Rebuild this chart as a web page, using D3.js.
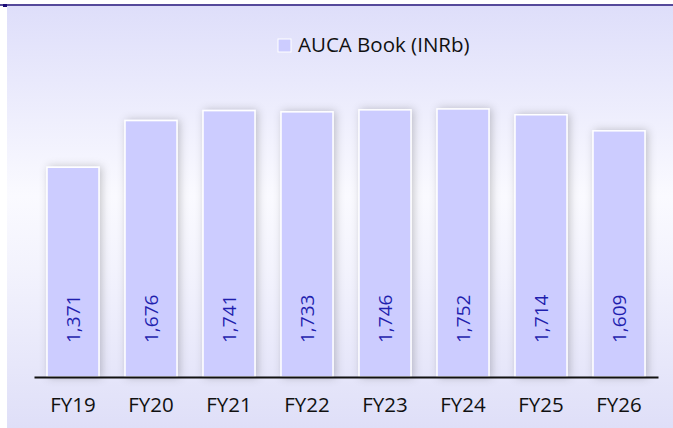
<!DOCTYPE html>
<html>
<head>
<meta charset="utf-8">
<script src="https://cdn.jsdelivr.net/npm/d3@7"></script>
<style>
  body { margin: 0; background: #fff; }
  svg { display: block; font-family: "Open Sans", sans-serif; }
</style>
</head>
<body>
<div id="chart"></div>
<script>
// chart data
var categories = ["FY19", "FY20", "FY21", "FY22", "FY23", "FY24", "FY25", "FY26"];
var values = [1371, 1676, 1741, 1733, 1746, 1752, 1714, 1609];
var seriesName = "AUCA Book (INRb)";

function init(){
    var w = 673, h = 428;
    var x0 = 34, x1 = 658, baseY = 377;

    var svg = d3.select("#chart").append("svg")
                .attr("width", w)
                .attr("height", h);

    var defs = svg.append("defs");

    // background gradient: lavender top, almost white middle, lavender bottom
    var grad = defs.append("linearGradient")
                   .attr("id", "bg")
                   .attr("x1", 0).attr("y1", 0).attr("x2", 0).attr("y2", 1);
    grad.append("stop").attr("offset", "0%").attr("stop-color", "#dedefa");
    grad.append("stop").attr("offset", "45%").attr("stop-color", "#fafaff");
    grad.append("stop").attr("offset", "62%").attr("stop-color", "#f3f3fd");
    grad.append("stop").attr("offset", "100%").attr("stop-color", "#dfdff8");

    var shadow = defs.append("filter")
                     .attr("id", "shadow")
                     .attr("x", "-30%").attr("y", "-10%")
                     .attr("width", "160%").attr("height", "120%");
    shadow.append("feDropShadow")
          .attr("dx", 2).attr("dy", 0)
          .attr("stdDeviation", 4)
          .attr("flood-color", "#000")
          .attr("flood-opacity", 0.22);

    svg.append("rect")
       .attr("x", 7).attr("y", 6)
       .attr("width", w - 7).attr("height", h - 6)
       .attr("fill", "url(#bg)");

    // top rule
    svg.append("line")
       .attr("x1", 0).attr("x2", w)
       .attr("y1", 5).attr("y2", 5)
       .attr("stroke", "#1c0c78")
       .attr("stroke-width", 1.5);
    svg.append("rect")
       .attr("x", 3).attr("y", 4)
       .attr("width", 4).attr("height", 3)
       .attr("fill", "#1c0c78");

    var xScale = d3.scaleBand()
                   .domain(categories)
                   .range([x0, x1])
                   .paddingInner(1/3)
                   .paddingOuter(1/6);

    var yScale = d3.scaleLinear()
                   .domain([0, 2000])
                   .range([baseY, 71]);

    // bars
    svg.append("g")
       .selectAll("rect")
       .data(values)
       .enter()
       .append("rect")
       .attr("x", function(d, i){ return xScale(categories[i]); })
       .attr("y", function(d){ return yScale(d); })
       .attr("width", xScale.bandwidth())
       .attr("height", function(d){ return baseY - yScale(d); })
       .attr("fill", "#ccccff")
       .attr("stroke", "#ffffff")
       .attr("stroke-width", 1.5)
       .attr("filter", "url(#shadow)");

    // value labels, rotated
    svg.append("g")
       .selectAll("text")
       .data(values)
       .enter()
       .append("text")
       .attr("transform", function(d, i){
           var cx = xScale(categories[i]) + xScale.bandwidth() / 2;
           return "translate(" + cx + "," + (baseY - 34) + ") rotate(-90)";
       })
       .attr("dy", "0.36em")
       .attr("fill", "#1f1fae")
       .attr("font-size", "19px")
       .text(function(d){ return d3.format(",")(d); });

    // x axis
    var xAxis = d3.axisBottom(xScale).tickSize(0).tickPadding(20);
    var axisG = svg.append("g")
                   .attr("transform", "translate(0," + baseY + ")")
                   .call(xAxis);
    axisG.select(".domain")
         .attr("stroke", "#111")
         .attr("stroke-width", 2);
    axisG.selectAll("text")
         .attr("font-family", "Open Sans, sans-serif")
         .attr("font-size", "20.5px")
         .attr("fill", "#111");

    // legend
    var lg = svg.append("g").attr("transform", "translate(278,39)");
    lg.append("rect")
      .attr("width", 13).attr("height", 13)
      .attr("fill", "#ccccff")
      .attr("stroke", "#ffffff")
      .attr("stroke-width", 1);
    lg.append("text")
      .attr("x", 20).attr("y", 13)
      .attr("font-size", "20.5px")
      .attr("fill", "#111")
      .text(seriesName);
}
window.onload = init;
</script>
</body>
</html>
